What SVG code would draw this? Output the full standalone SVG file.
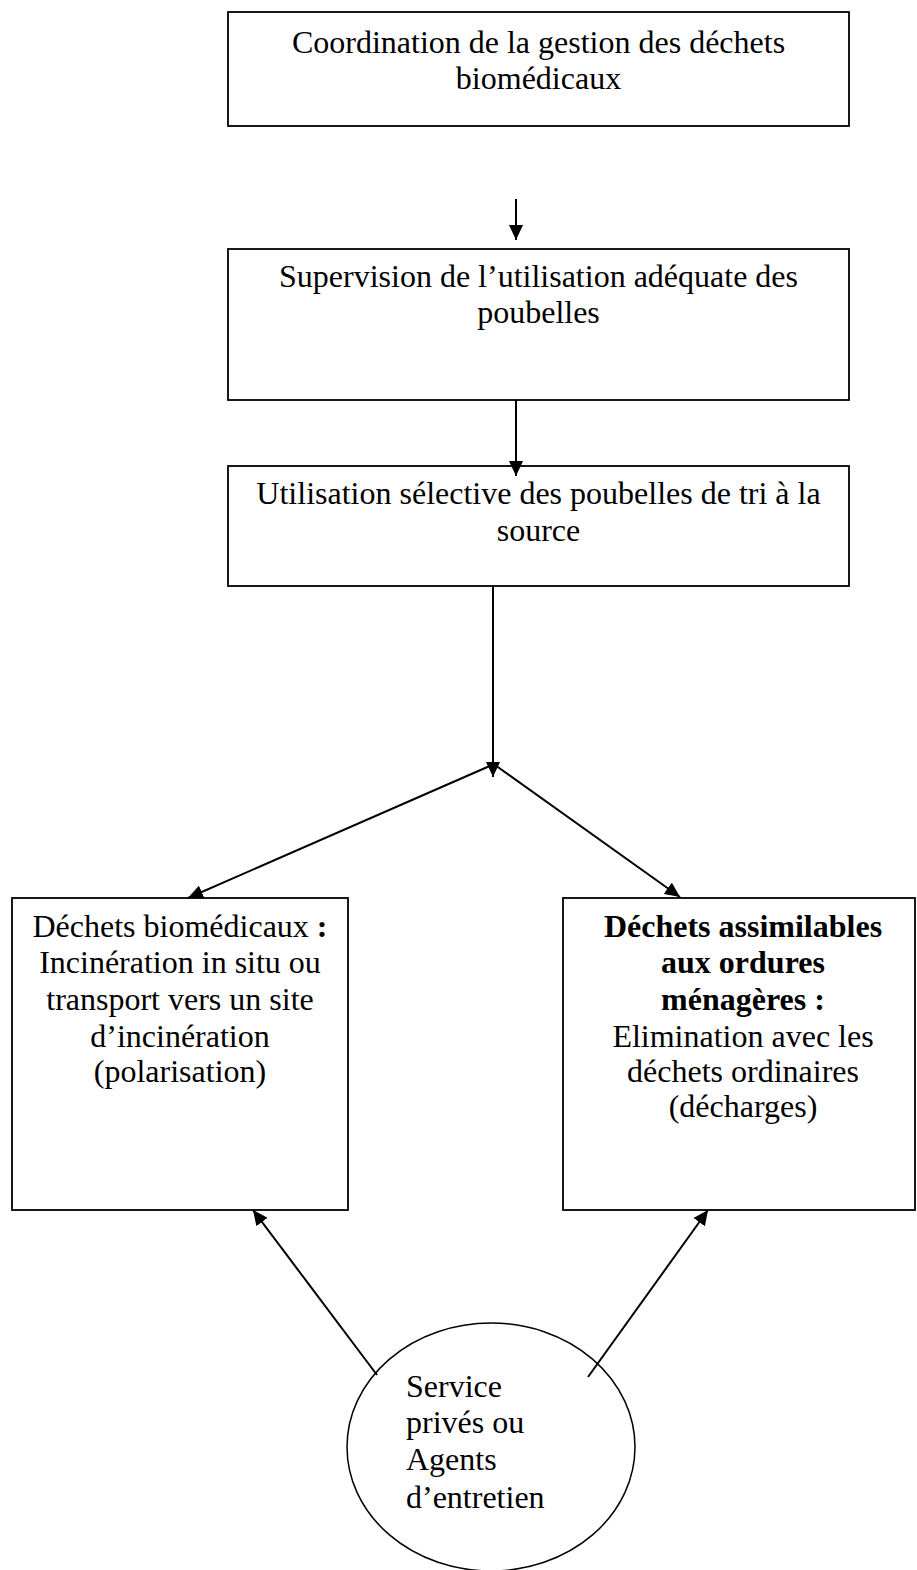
<svg xmlns="http://www.w3.org/2000/svg" width="917" height="1570" viewBox="0 0 917 1570">
<style>
.box{fill:none;stroke:#000;stroke-width:1.8}
.t{font-family:"Liberation Serif","Times New Roman",serif;font-size:32px;fill:#000}
.c{text-anchor:middle}
.b{font-weight:bold}
.ln{stroke:#000;stroke-width:2;fill:none}
</style>
<defs>
<marker id="ah" viewBox="0 0 15 14" refX="15" refY="7" markerWidth="15" markerHeight="14" markerUnits="userSpaceOnUse" orient="auto">
<path d="M0,0 L15,7 L0,14 Z" fill="#000"/>
</marker>
</defs>
<rect width="917" height="1570" fill="#fff"/>
<g id="n1">
<rect class="box" x="228" y="12" width="621" height="114"/>
<text class="t c" x="538.5" y="53">Coordination de la gestion des déchets</text>
<text class="t c" x="538.5" y="89">biomédicaux</text>
</g>
<g id="n2">
<rect class="box" x="228" y="249" width="621" height="151"/>
<text class="t c" x="538.5" y="287">Supervision de l’utilisation adéquate des</text>
<text class="t c" x="538.5" y="323">poubelles</text>
</g>
<g id="n3">
<rect class="box" x="228" y="466" width="621" height="120"/>
<text class="t c" x="538.5" y="504">Utilisation sélective des poubelles de tri à la</text>
<text class="t c" x="538.5" y="541">source</text>
</g>
<g id="n4">
<rect class="box" x="12" y="898" width="336" height="312"/>
<text class="t c" x="180" y="937">Déchets biomédicaux <tspan class="b">:</tspan></text>
<text class="t c" x="180" y="973">Incinération in situ ou</text>
<text class="t c" x="180" y="1010">transport vers un site</text>
<text class="t c" x="180" y="1047">d’incinération</text>
<text class="t c" x="180" y="1082">(polarisation)</text>
</g>
<g id="n5">
<rect class="box" x="563" y="898" width="352" height="312"/>
<text class="t c b" x="743" y="937">Déchets assimilables</text>
<text class="t c b" x="743" y="973">aux ordures</text>
<text class="t c b" x="743" y="1010">ménagères :</text>
<text class="t c" x="743" y="1047">Elimination avec les</text>
<text class="t c" x="743" y="1082">déchets ordinaires</text>
<text class="t c" x="743" y="1117">(décharges)</text>
</g>
<g id="n6">
<ellipse cx="491" cy="1447" rx="144" ry="124" fill="none" stroke="#000" stroke-width="1.5"/>
<text class="t" x="406" y="1397">Service</text>
<text class="t" x="406" y="1433">privés ou</text>
<text class="t" x="406" y="1470">Agents</text>
<text class="t" x="406" y="1508">d’entretien</text>
</g>
<g id="connectors">
<line class="ln" x1="516" y1="199" x2="516" y2="240" marker-end="url(#ah)"/>
<line class="ln" x1="516" y1="400" x2="516" y2="476" marker-end="url(#ah)"/>
<line class="ln" x1="493" y1="586" x2="493" y2="777" marker-end="url(#ah)"/>
<line class="ln" x1="492" y1="765" x2="188" y2="898" marker-end="url(#ah)"/>
<line class="ln" x1="495" y1="765" x2="680" y2="897" marker-end="url(#ah)"/>
<line class="ln" x1="377" y1="1375" x2="253" y2="1210" marker-end="url(#ah)"/>
<line class="ln" x1="588" y1="1377" x2="708" y2="1210" marker-end="url(#ah)"/>
</g>
</svg>
